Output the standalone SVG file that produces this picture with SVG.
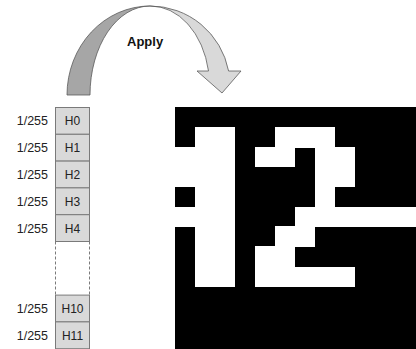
<svg xmlns="http://www.w3.org/2000/svg" width="416" height="349" viewBox="0 0 416 349">
<style>
.lbl{font-family:"Liberation Sans",Arial,sans-serif;font-size:12.5px;fill:#222;}
.h{font-family:"Liberation Sans",Arial,sans-serif;font-size:12px;fill:#222;text-anchor:middle;}
.box{fill:#d9d9d9;stroke:#7a7a7a;stroke-width:1;}
</style>
<rect width="416" height="349" fill="#fff"/>
<g id="connectors">
<path d="M67,95 A83,89 0 0 1 150,6 A60,89 0 0 0 90,95 Z" fill="#a6a6a6" stroke="#5a5a5a" stroke-width="0.8"/>
<path d="M150,6 A80,80 0 0 1 228.6,71 L241,71 L222,93 L197,71 L208.5,71 A59,80 0 0 0 150,6 Z" fill="#d9d9d9" stroke="#5a5a5a" stroke-width="0.8"/>
<text x="127" y="46" style="font-family:'Liberation Sans',Arial,sans-serif;font-size:13px;font-weight:bold;fill:#111;">Apply</text>
</g>
<g id="kernel">
<g id="h0"><rect class="box" x="55.5" y="107.5" width="34" height="26.8"/><text class="h" x="72.5" y="125.4">H0</text><text class="lbl" x="48" y="125.4" text-anchor="end">1/255</text></g>
<g id="h1"><rect class="box" x="55.5" y="134.3" width="34" height="26.8"/><text class="h" x="72.5" y="152.2">H1</text><text class="lbl" x="48" y="152.2" text-anchor="end">1/255</text></g>
<g id="h2"><rect class="box" x="55.5" y="161.1" width="34" height="26.8"/><text class="h" x="72.5" y="179">H2</text><text class="lbl" x="48" y="179" text-anchor="end">1/255</text></g>
<g id="h3"><rect class="box" x="55.5" y="187.9" width="34" height="26.8"/><text class="h" x="72.5" y="205.8">H3</text><text class="lbl" x="48" y="205.8" text-anchor="end">1/255</text></g>
<g id="h4"><rect class="box" x="55.5" y="214.7" width="34" height="26.8"/><text class="h" x="72.5" y="232.6">H4</text><text class="lbl" x="48" y="232.6" text-anchor="end">1/255</text></g>
<g id="gap"><path d="M55.5,241.5 V295.1 M89.5,241.5 V295.1" stroke="#7a7a7a" stroke-width="1" stroke-dasharray="3,2" fill="none"/></g>
<g id="h10"><rect class="box" x="55.5" y="295.1" width="34" height="26.8"/><text class="h" x="72.5" y="313">H10</text><text class="lbl" x="48" y="313" text-anchor="end">1/255</text></g>
<g id="h11"><rect class="box" x="55.5" y="321.9" width="34" height="26.8"/><text class="h" x="72.5" y="339.8">H11</text><text class="lbl" x="48" y="339.8" text-anchor="end">1/255</text></g>
</g>
<g id="image">
<rect x="175" y="107" width="242" height="243" fill="#000"/>
<path fill="#fff" d="M195,127h40v160h-40z M174,147h22v40h-22z M174,207h22v20h-22z M275,127h60v21h-60z M255,147h40v20h-40z M315,147h40v40h-40z M315,186h20v22h-20z M295,207h122v20h-122z M275,226h40v21h-40z M255,246h40v22h-40z M255,267h100v20h-100z"/>
</g>
</svg>
